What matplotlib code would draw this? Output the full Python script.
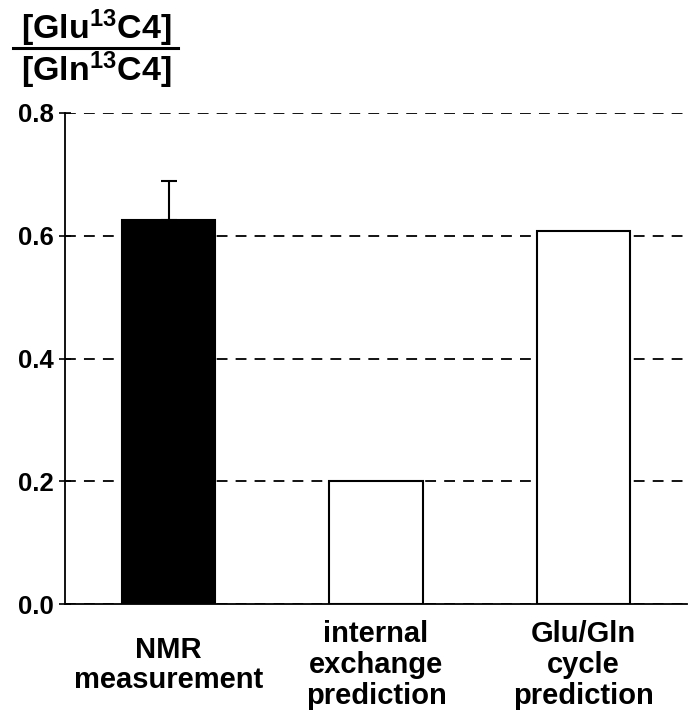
import numpy as np
import matplotlib
matplotlib.use("Agg")
import matplotlib.pyplot as plt
from matplotlib.lines import Line2D

plt.rcParams['font.family'] = ['Liberation Sans', 'DejaVu Sans']
plt.rcParams['font.weight'] = 'bold'
plt.rcParams['mathtext.fontset'] = 'custom'
plt.rcParams['mathtext.rm'] = 'Liberation Sans:bold'
plt.rcParams['mathtext.default'] = 'rm'

# data
categories = ["NMR\nmeasurement", "internal\nexchange\nprediction", "Glu/Gln\ncycle\nprediction"]
values = [0.626, 0.200, 0.608]
err_up = [0.064, 0.0, 0.0]
fills = ["black", "white", "white"]
yticks = [0.0, 0.2, 0.4, 0.6, 0.8]

fig = plt.figure(figsize=(6.95, 7.2), dpi=100)
ax = fig.add_axes([65/695, 1 - 604/720, (687-65)/695, (604-113)/720])

x = np.arange(len(categories))
ax.bar(x, values, width=0.45, color=fills, edgecolor="black", linewidth=1.5, zorder=2)
# error bar only on the measured value, upward only
ax.errorbar(x[0], values[0], yerr=[[0], [err_up[0]]], fmt="none", ecolor="black",
            elinewidth=1.5, capsize=5.5, capthick=1.5, zorder=3)

ax.set_xlim(-0.5, 2.5)
ax.set_ylim(0, 0.8)
ax.set_yticks(yticks)
ax.set_yticklabels(["%.1f" % v for v in yticks], fontsize=18.5, fontweight="bold")
ax.set_xticks(x)
ax.set_xticklabels(categories, fontsize=21, fontweight="bold", linespacing=1.12)
for lab in ax.get_xticklabels():
    lab.set_verticalalignment("center")
ax.tick_params(axis="x", length=0, pad=44)
ax.tick_params(axis="y", direction="inout", length=8.5, width=1.2, pad=4)

ax.grid(axis="y", color="black", linestyle=(0, (6, 4.5)), linewidth=1.3)
ax.set_axisbelow(True)
for s in ["top", "right"]:
    ax.spines[s].set_visible(False)
for s in ["left", "bottom"]:
    ax.spines[s].set_linewidth(1.3)

# y label as a fraction above the axis
fig.text(96/695, 1 - 28/720, r"[Glu$^{13}$C4]", fontsize=24.5, fontweight="bold",
         ha="center", va="center")
fig.text(96/695, 1 - 70/720, r"[Gln$^{13}$C4]", fontsize=24.5, fontweight="bold",
         ha="center", va="center")
fig.add_artist(Line2D([13/695, 178/695], [1 - 48/720, 1 - 48/720], color="black",
                      linewidth=2.2, transform=fig.transFigure))

fig.savefig("out.png", dpi=100)
